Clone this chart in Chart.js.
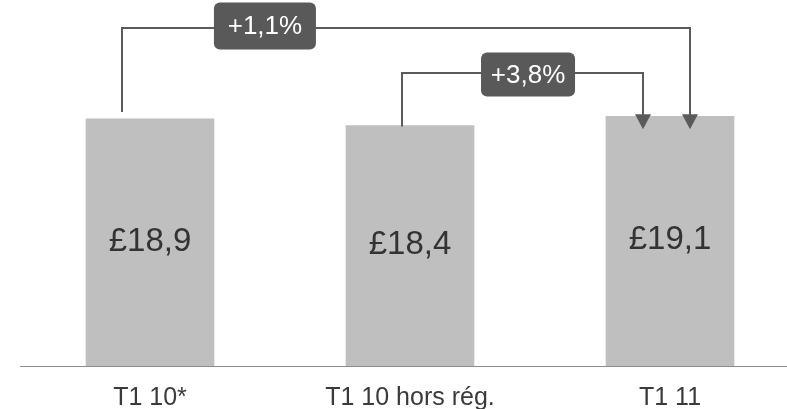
<!DOCTYPE html>
<html>
<head>
<meta charset="utf-8">
<script src="https://cdn.jsdelivr.net/npm/chart.js@4/dist/chart.umd.min.js"></script>
<style>
  html, body { margin: 0; padding: 0; background: #fff; }
  canvas { display: block; }
</style>
</head>
<body>
<canvas id="revenuechart" width="787" height="409"></canvas>
<script>
// Quarterly figures (in £)
const categories = ['T1 10*', 'T1 10 hors rég.', 'T1 11'];
const revenue = [18.9, 18.4, 19.1];
const changeLabels = ['+1,1%', '+3,8%'];

const FONT = "'Liberation Sans', Arial, sans-serif";

// Format 18.9 -> "£18,9"
function formatPounds(v) {
    return '£' + v.toFixed(1).replace('.', ',');
}

// Comparison brackets between bars: from/to are bar indexes
const brackets = [
    { from: 0, to: 2, text: changeLabels[0], level: 25.82, startDx: -28, startGap: -7, endDx: 20, boxAt: 0.442, boxDy: -2, boxW: 102, boxH: 47 },
    { from: 1, to: 2, text: changeLabels[1], level: 22.38, startDx: -8, startGap: 1, endDx: -27, boxAt: 1.454, boxDy: 1.5, boxW: 94, boxH: 44 }
];

// Value written in the middle of each bar
const valueLabelPlugin = {
    id: 'valueLabels',
    afterDatasetsDraw(chart) {
        const ctx = chart.ctx;
        const bars = chart.getDatasetMeta(0).data;
        ctx.save();
        ctx.font = '33px ' + FONT;
        ctx.fillStyle = '#333333';
        ctx.textAlign = 'center';
        ctx.textBaseline = 'middle';
        bars.forEach((bar, i) => {
            ctx.fillText(formatPounds(revenue[i]), bar.x, (bar.y + bar.base) / 2 - 1);
        });
        ctx.restore();
    }
};

// Elbow arrows with the growth percentage in a dark box
const bracketPlugin = {
    id: 'brackets',
    afterDatasetsDraw(chart) {
        const ctx = chart.ctx;
        const xs = chart.scales.x;
        const ys = chart.scales.y;
        const bars = chart.getDatasetMeta(0).data;
        const lineColor = '#5b5b5b';

        brackets.forEach(b => {
            const x0 = bars[b.from].x + b.startDx;
            const x1 = bars[b.to].x + b.endDx;
            const y0 = bars[b.from].y + b.startGap;
            const yTop = Math.round(ys.getPixelForValue(b.level));
            const yTip = bars[b.to].y + 13;

            ctx.save();
            ctx.strokeStyle = lineColor;
            ctx.lineWidth = 2;
            ctx.beginPath();
            ctx.moveTo(x0, y0);
            ctx.lineTo(x0, yTop);
            ctx.lineTo(x1, yTop);
            ctx.lineTo(x1, yTip - 12);
            ctx.stroke();

            // arrow head
            ctx.fillStyle = lineColor;
            ctx.beginPath();
            ctx.moveTo(x1 - 8, yTip - 15);
            ctx.lineTo(x1 + 8, yTip - 15);
            ctx.lineTo(x1, yTip);
            ctx.closePath();
            ctx.fill();

            // label box
            const bx = xs.getPixelForValue(b.boxAt);
            const by = yTop + b.boxDy;
            ctx.fillStyle = '#595959';
            ctx.beginPath();
            ctx.roundRect(bx - b.boxW / 2, by - b.boxH / 2, b.boxW, b.boxH, 6);
            ctx.fill();

            ctx.fillStyle = '#ffffff';
            ctx.font = '26px ' + FONT;
            ctx.textAlign = 'center';
            ctx.textBaseline = 'middle';
            ctx.fillText(b.text, bx, by + 1);
            ctx.restore();
        });
    }
};

const ctx = document.getElementById('revenuechart').getContext('2d');
const revenueChart = new Chart(ctx, {
    type: 'bar',
    data: {
        datasets: [{
            data: revenue.map((v, i) => ({ x: i, y: v })),
            backgroundColor: '#bfbfbf',
            borderWidth: 0,
            barThickness: 128
        }]
    },
    options: {
        responsive: false,
        animation: false,
        layout: {
            // the axis reserves twice the tick padding; pull the unused part below the canvas
            padding: { left: 20, right: 0, top: 0, bottom: -22 }
        },
        plugins: {
            legend: { display: false },
            tooltip: { enabled: false }
        },
        scales: {
            x: {
                type: 'linear',
                min: -0.5,
                max: 2.45,
                offset: false,
                grid: { display: true, drawOnChartArea: false, drawTicks: false },
                border: { display: true, color: '#8c8c8c', width: 1 },
                afterBuildTicks: scale => {
                    scale.ticks = categories.map((_, i) => ({ value: i }));
                },
                ticks: {
                    padding: 20,
                    color: '#3a3a3a',
                    maxRotation: 0,
                    autoSkip: false,
                    font: { family: FONT, size: 25, lineHeight: 1 },
                    callback: value => categories[value]
                }
            },
            y: {
                display: false,
                min: 0,
                max: 28
            }
        }
    },
    plugins: [valueLabelPlugin, bracketPlugin]
});
</script>
</body>
</html>
